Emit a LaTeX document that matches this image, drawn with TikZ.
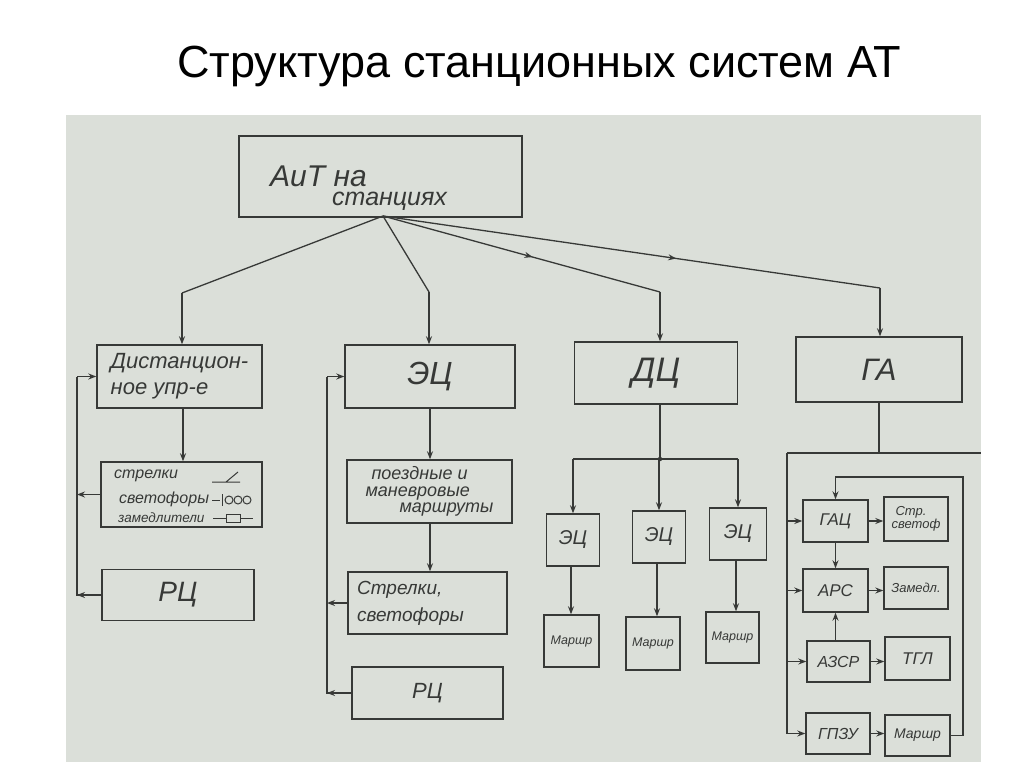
\documentclass[tikz,border=0pt]{standalone}
\usepackage{fontspec}
\setmainfont{Liberation Sans}
\usetikzlibrary{arrows.meta,decorations.markings}
\definecolor{paper}{RGB}{219,223,217}
\definecolor{ink}{RGB}{55,57,55}
\begin{document}
\begin{tikzpicture}[x=1pt,y=-1pt,
  box/.style={draw=ink,line width=1.4pt,inner sep=0pt,text=ink,font=\itshape},
  lbl/.style={anchor=west,inner sep=0pt,text=ink},
  conn/.style={draw=ink,line width=1.3pt},
  arr/.style={conn,-{Stealth[length=8pt,width=6pt]}},
  midarr/.style={conn,postaction={decorate},decoration={markings,mark=at position #1 with {\arrow{Stealth[length=8pt,width=6pt]}}}}]
\useasboundingbox (0,0) rectangle (1024,767);
\fill[white] (0,0) rectangle (1024,767);
\fill[paper] (66,115) rectangle (981,762);
% title
\node[anchor=base west,inner sep=0pt,font=\fontsize{45}{50}\selectfont] (title) at (177,78) {Структура станционных систем АТ};
% top box
\node[box,minimum width=283pt,minimum height=81pt] (top) at (380.5,176.5) {};
\node[lbl,font=\itshape\fontsize{30}{32}\selectfont] (topa) at (270,176) {АиТ на};
\node[lbl,font=\itshape\fontsize{25}{28}\selectfont] (topb) at (332,201) {станциях};
% second row
\node[box,minimum width=165pt,minimum height=63pt,align=left,font=\itshape\fontsize{22}{26}\selectfont] (dist) at (179.5,376.5) {Дистанцион-\\ное упр-е};
\node[box,minimum width=170pt,minimum height=63pt,font=\itshape\fontsize{32}{34}\selectfont] (ec) at (430,376.5) {ЭЦ};
\node[box,minimum width=163pt,minimum height=62pt,font=\itshape\fontsize{34}{36}\selectfont] (dc) at (656,373) {ДЦ};
\node[box,minimum width=166pt,minimum height=65pt,font=\itshape\fontsize{31}{34}\selectfont] (ga) at (879,369.5) {ГА};
% left column
\node[box,minimum width=161pt,minimum height=65pt] (strl) at (181.5,494.5) {};
\node[lbl,font=\itshape\fontsize{16}{18}\selectfont] (t1) at (114,476) {стрелки};
\node[lbl,font=\itshape\fontsize{16}{18}\selectfont] (t2) at (119,499) {светофоры};
\node[lbl,font=\itshape\fontsize{13.5}{16}\selectfont] (t3) at (118,518) {замедлители};
\draw[conn,line width=1pt] (212,482) -- (240,482) (226,482) -- (238,472);
\draw[conn,line width=1pt] (212,500) -- (220,500) (222,494) -- (222,506);
\foreach \cx in {229,238,247} \draw[ink,line width=1pt] (\cx,500) circle (4pt);
\draw[conn,line width=1pt] (213,518) -- (253,518);
\draw[ink,line width=1pt,fill=paper] (226,514) rectangle (240,522);
\node[box,minimum width=152pt,minimum height=51pt,font=\itshape\fontsize{28}{30}\selectfont] (rc1) at (178,595) {РЦ};
% middle column
\node[box,minimum width=165pt,minimum height=63pt,align=left,font=\itshape\fontsize{18}{16.5}\selectfont] (routes) at (429.5,491.5) {\hspace*{6pt}поездные и\\маневровые\\\hspace*{34pt}маршруты};
\node[box,minimum width=159pt,minimum height=62pt,align=left,font=\itshape\fontsize{19}{27}\selectfont] (strsv) at (427.5,603) {Стрелки,\\светофоры\hspace*{34pt}};
\node[box,minimum width=151pt,minimum height=52pt,font=\itshape\fontsize{22}{24}\selectfont] (rc2) at (427.5,693) {РЦ};
% DC column
\node[box,minimum width=53pt,minimum height=52pt,font=\itshape\fontsize{20}{22}\selectfont] (e1) at (573,540) {ЭЦ};
\node[box,minimum width=53pt,minimum height=52pt,font=\itshape\fontsize{20}{22}\selectfont] (e2) at (659,537) {ЭЦ};
\node[box,minimum width=57pt,minimum height=52pt,font=\itshape\fontsize{20}{22}\selectfont] (e3) at (738,534) {ЭЦ};
\node[box,minimum width=55pt,minimum height=52pt,font=\itshape\fontsize{12.5}{14}\selectfont] (m1) at (571.5,641) {Маршр};
\node[box,minimum width=54pt,minimum height=53pt,font=\itshape\fontsize{12.5}{14}\selectfont] (m2) at (653,643.5) {Маршр};
\node[box,minimum width=53pt,minimum height=51pt,font=\itshape\fontsize{12.5}{14}\selectfont] (m3) at (732.5,637.5) {Маршр};
% GA column
\node[box,minimum width=65pt,minimum height=42pt,font=\itshape\fontsize{17}{18}\selectfont] (gac) at (835.5,521) {ГАЦ};
\node[box,minimum width=64pt,minimum height=44pt,align=left,font=\itshape\fontsize{13}{13}\selectfont] (sv) at (916,519) {\hspace*{4pt}Стр.\\светоф};
\node[box,minimum width=65pt,minimum height=43pt,font=\itshape\fontsize{17}{18}\selectfont] (ars) at (835.5,590.5) {АРС};
\node[box,minimum width=64pt,minimum height=42pt,font=\itshape\fontsize{13}{14}\selectfont] (zam) at (916,588) {Замедл.};
\node[box,minimum width=63pt,minimum height=41pt,font=\itshape\fontsize{16}{18}\selectfont] (azsr) at (838.5,661.5) {АЗСР};
\node[box,minimum width=65pt,minimum height=43pt,font=\itshape\fontsize{17}{18}\selectfont] (tgl) at (917.5,658.5) {ТГЛ};
\node[box,minimum width=64pt,minimum height=41pt,font=\itshape\fontsize{16}{18}\selectfont] (gpzu) at (838,733.5) {ГПЗУ};
\node[box,minimum width=65pt,minimum height=41pt,font=\itshape\fontsize{14}{14}\selectfont] (mg) at (917.5,735.5) {Маршр};
% fan from top
\coordinate (f1) at (182,293);
\coordinate (f2) at (429,292);
\coordinate (f3) at (660,292);
\coordinate (f4) at (880,288);
\coordinate (fo) at (383,216);
\draw[conn] (fo) -- (f1);
\draw[arr] (f1) -- (f1 |- dist.north);
\draw[conn] (fo) -- (f2);
\draw[arr] (f2) -- (f2 |- ec.north);
\draw[midarr=0.54] (fo) -- (f3);
\draw[arr] (f3) -- (f3 |- dc.north);
\draw[midarr=0.59] (fo) -- (f4);
\draw[arr] (f4) -- (f4 |- ga.north);
% left column connectors
\coordinate (lx) at (77,0);
\draw[arr] (dist.south -| 183,0) -- (strl.north -| 183,0);
\draw[conn] (rc1.west) -- (lx |- rc1.west) -- (lx |- dist.west);
\draw[arr] (lx |- dist.west) -- (dist.west);
\draw[arr] (strl.west) -- (lx |- strl.west);
\draw[arr] (rc1.west) -- (lx |- rc1.west);
% middle column connectors
\coordinate (mx) at (327,0);
\draw[arr] (ec.south) -- (routes.north -| ec.south);
\draw[arr] (routes.south -| ec.south) -- (strsv.north -| ec.south);
\draw[conn] (rc2.west) -- (mx |- rc2.west) -- (mx |- ec.west);
\draw[arr] (mx |- ec.west) -- (ec.west);
\draw[arr] (strsv.west) -- (mx |- strsv.west);
\draw[arr] (rc2.west) -- (mx |- rc2.west);
% DC connectors
\coordinate (dj) at (660,459);
\draw[conn] (dc.south -| dj) -- (dj);
\draw[conn] (e1.north |- dj) -- (e3.north |- dj);
\fill[ink] (dj) circle (2.2pt);
\draw[arr] (e1.north |- dj) -- (e1.north);
\draw[arr] (e2.north |- dj) -- (e2.north);
\draw[arr] (e3.north |- dj) -- (e3.north);
\draw[arr] (e1.south -| 571,0) -- (m1.north -| 571,0);
\draw[arr] (e2.south -| 657,0) -- (m2.north -| 657,0);
\draw[arr] (e3.south -| 736,0) -- (m3.north -| 736,0);
% GA connectors
\coordinate (gl) at (787,453);
\coordinate (gr) at (981,453);
\draw[conn] (ga.south) -- (ga.south |- gl);
\draw[conn] (gl) -- (gr);
\draw[conn] (gl) -- (gl |- gpzu.west);
\draw[arr] (gl |- gac.west) -- (gac.west);
\draw[arr] (gl |- ars.west) -- (ars.west);
\draw[arr] (gl |- azsr.west) -- (azsr.west);
\draw[arr] (gl |- gpzu.west) -- (gpzu.west);
\draw[arr] (gac.east) -- (sv.west |- gac.east);
\draw[arr] (ars.east) -- (zam.west |- ars.east);
\draw[arr] (azsr.east) -- (tgl.west |- azsr.east);
\draw[arr] (gpzu.east) -- (mg.west |- gpzu.east);
\draw[arr] (gac.south) -- (ars.north);
\draw[arr] (azsr.north -| ars.south) -- (ars.south);
\coordinate (lr) at (963,477);
\draw[arr] (mg.east) -- (lr |- mg.east) -- (lr) -- (gac.north |- lr) -- (gac.north);
\end{tikzpicture}
\end{document}
